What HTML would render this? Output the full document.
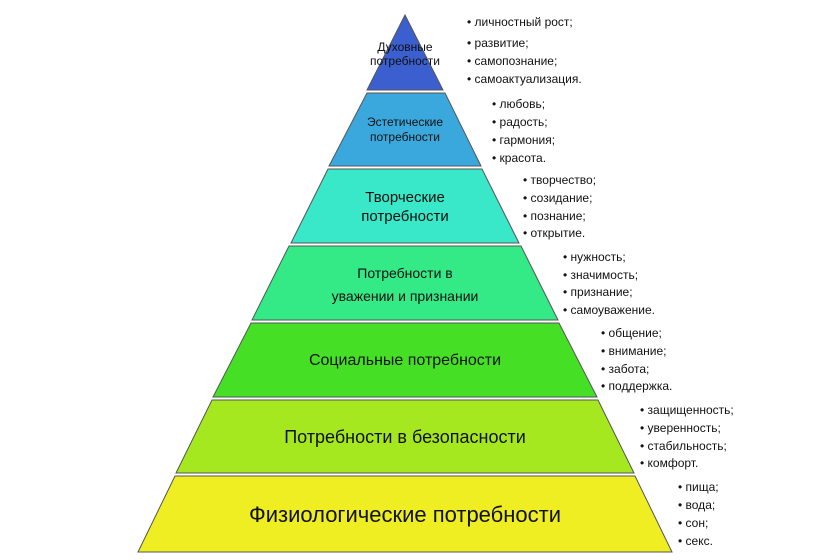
<!DOCTYPE html>
<html><head><meta charset="utf-8"><style>
body{margin:0;background:#fff;}
svg{display:block;font-family:"Liberation Sans","DejaVu Sans",sans-serif;}
.l{font-size:12px;fill:#111;}
.t{fill:#111;text-anchor:middle;}
</style></head><body>
<svg width="840" height="560" viewBox="0 0 840 560">
<g stroke="#555" stroke-width="1">
<polygon points="405,15 443,90 367,90" fill="#3c5fd0"/>
<polygon points="367,93 445,93 481,166 329,166" fill="#3aa8dc"/>
<polygon points="328,169 482,169 519,243 291,243" fill="#38e8c8"/>
<polygon points="289,246 521,246 558,320 252,320" fill="#33ea86"/>
<polygon points="251,323 559,323 597,397 213,397" fill="#45e025"/>
<polygon points="212,400 598,400 634,473 176,473" fill="#a6e820"/>
<polygon points="175,476 635,476 672,552 138,552" fill="#eeee22"/>
</g>
<text class="t" x="405" y="51" font-size="12">Духовные</text>
<text class="t" x="405" y="65" font-size="12">потребности</text>
<text class="t" x="405" y="126" font-size="12">Эстетические</text>
<text class="t" x="405" y="141" font-size="12">потребности</text>
<text class="t" x="405" y="202" font-size="15">Творческие</text>
<text class="t" x="405" y="221" font-size="15">потребности</text>
<text class="t" x="405" y="278" font-size="14">Потребности в</text>
<text class="t" x="405" y="301" font-size="14">уважении и признании</text>
<text class="t" x="405" y="365" font-size="16">Социальные потребности</text>
<text class="t" x="405" y="443" font-size="18">Потребности в безопасности</text>
<text class="t" x="405" y="522" font-size="22">Физиологические потребности</text>
<g class="l">
<text x="467" y="26">• личностный рост;</text>
<text x="467" y="47">• развитие;</text>
<text x="467" y="65">• самопознание;</text>
<text x="467" y="83">• самоактуализация.</text>
<text x="492" y="108">• любовь;</text>
<text x="492" y="126">• радость;</text>
<text x="492" y="144">• гармония;</text>
<text x="492" y="162">• красота.</text>
<text x="523" y="184">• творчество;</text>
<text x="523" y="202">• созидание;</text>
<text x="523" y="220">• познание;</text>
<text x="523" y="237">• открытие.</text>
<text x="563" y="261">• нужность;</text>
<text x="563" y="279">• значимость;</text>
<text x="563" y="296">• признание;</text>
<text x="563" y="314">• самоуважение.</text>
<text x="601" y="337">• общение;</text>
<text x="601" y="355">• внимание;</text>
<text x="601" y="373">• забота;</text>
<text x="601" y="390">• поддержка.</text>
<text x="640" y="414">• защищенность;</text>
<text x="640" y="432">• уверенность;</text>
<text x="640" y="450">• стабильность;</text>
<text x="640" y="467">• комфорт.</text>
<text x="678" y="491">• пища;</text>
<text x="678" y="509">• вода;</text>
<text x="678" y="527">• сон;</text>
<text x="678" y="545">• секс.</text>
</g>
</svg>
</body></html>
